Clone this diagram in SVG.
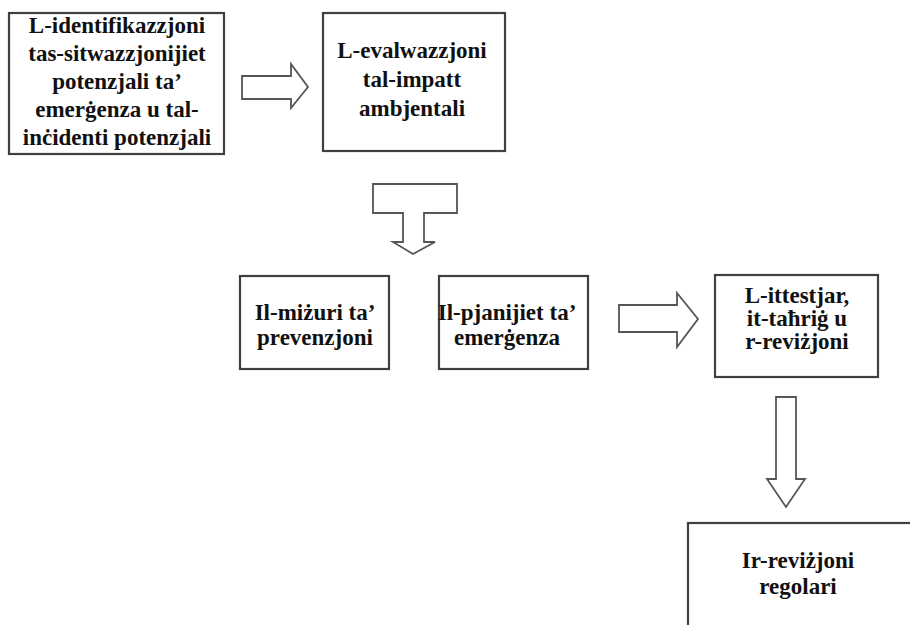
<svg xmlns="http://www.w3.org/2000/svg" width="910" height="625" viewBox="0 0 910 625">
<style>
.box{fill:#fff;stroke:#404040;stroke-width:2.2}
.arr{fill:#fff;stroke:#555;stroke-width:1.8;stroke-linejoin:miter}
.t{font-family:"Liberation Serif","Times New Roman",serif;font-weight:bold;font-size:23px;fill:#111;text-anchor:middle}
</style>
<rect width="910" height="625" fill="#fff"/>
<g id="connectors">
<path class="arr" d="M242,76 L291,76 L291,64 L308,87 L291,108 L291,99 L242,99 Z"/>
<path class="arr" d="M373,184 L457,184 L457,213 L424,213 L424,242 L435,242 L413,254 L393,242 L403,242 L403,213 L373,213 Z"/>
<path class="arr" d="M619,305 L677,305 L677,293 L698,319 L677,347 L677,332 L619,332 Z"/>
<path class="arr" d="M776,397 L796,397 L796,479 L805,479 L786,507 L767,479 L776,479 Z"/>
</g>
<g id="n1">
<rect class="box" x="9" y="13" width="215" height="141"/>
<text class="t" x="117" y="33">L-identifikazzjoni</text>
<text class="t" x="117" y="61">tas-sitwazzjonijiet</text>
<text class="t" x="117" y="89">potenzjali ta’</text>
<text class="t" x="117" y="117">emerġenza u tal-</text>
<text class="t" x="117" y="145">inċidenti potenzjali</text>
</g>
<g id="n2">
<rect class="box" x="323" y="13" width="182" height="138"/>
<text class="t" x="412" y="58">L-evalwazzjoni</text>
<text class="t" x="412" y="87">tal-impatt</text>
<text class="t" x="412" y="116">ambjentali</text>
</g>
<g id="n3">
<rect class="box" x="240" y="276" width="149" height="93"/>
<text class="t" x="315" y="320">Il-miżuri ta’</text>
<text class="t" x="315" y="345">prevenzjoni</text>
</g>
<g id="n4">
<rect class="box" x="439" y="276" width="149" height="93"/>
<text class="t" x="507" y="320">Il-pjanijiet ta’</text>
<text class="t" x="507" y="345">emerġenza</text>
</g>
<g id="n5">
<rect class="box" x="715" y="275" width="163" height="102"/>
<text class="t" x="797" y="303">L-ittestjar,</text>
<text class="t" x="797" y="326">it-taħriġ u</text>
<text class="t" x="797" y="349">r-reviżjoni</text>
</g>
<g id="n6">
<rect class="box" x="688" y="523" width="240" height="130"/>
<text class="t" x="798" y="568">Ir-reviżjoni</text>
<text class="t" x="798" y="594">regolari</text>
</g>
</svg>
